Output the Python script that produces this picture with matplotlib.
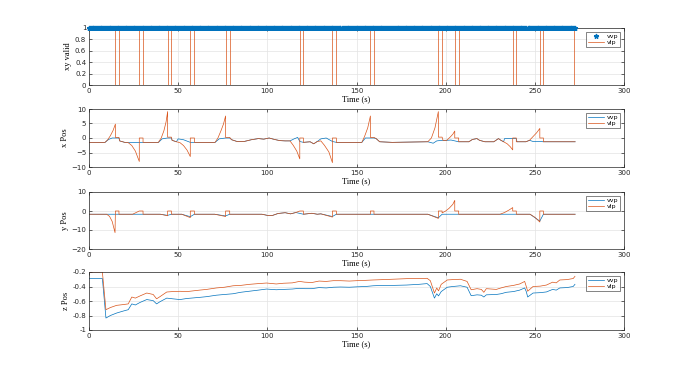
import numpy as np
import matplotlib
matplotlib.use('Agg')
import matplotlib.pyplot as plt

# dropout intervals of the vlp valid flag (s)
drop_start = [14.8, 28.2, 44.1, 56.8, 76.6, 118.2, 136.5, 157.8, 195.9, 205.1, 237.6, 252.8]
drop_end = [16.8, 30.3, 46.2, 59.1, 78.9, 120.2, 138.7, 159.8, 198.0, 207.3, 239.6, 254.8]
t_end_vlp = 271.8
# gaps in the vvp samples
vvp_gaps = [141.7, 168.0, 245.5]
t_end_vvp = 273.0

# x position (t, value)
x_vlp_t = [0, 9, 10.5, 12, 13.5, 14.8, 14.8, 16.8, 17.2, 20, 22, 24, 26, 28.2, 28.2, 30.3, 30.3,
           38.9, 40.5, 42, 43.2, 44.1, 44.1, 46.2, 46.6, 49, 51, 53, 55, 56.8, 56.8, 59.1, 59.1,
           70.7, 72.3, 74, 75.4, 76.6, 76.6, 78.9, 80, 83, 87, 91, 95, 98, 101, 104, 107, 110,
           112.7, 114.5, 116.5, 118.2, 118.2, 120.2, 120.2, 124, 126, 128, 130, 132, 134.5, 136.5,
           136.5, 138.7, 138.7, 153, 154.5, 156.3, 157.8, 157.8, 159.8, 161, 163, 170, 190, 192,
           194, 195.9, 195.9, 198, 198.5, 200.6, 202.5, 204, 205.1, 205.1, 207.3, 207.3, 213, 215,
           217.5, 219, 222, 227, 229.6, 231, 232.5, 234.5, 236.2, 237.6, 237.6, 239.6, 239.6, 245,
           247, 249, 251, 252.8, 252.8, 254.8, 254.8, 272.6]
x_vlp = [-1.5, -1.5, -0.6, 0.8, 2.6, 4.8, 0.2, 0.2, -1.0, -1.5, -1.6, -2.6, -4.5, -8.1, 0, 0, -1.5,
         -1.5, 0, 2.5, 5.5, 9.1, 0.3, 0.3, -0.8, -1.3, -1.6, -2.6, -4.2, -6.4, 0, 0, -1.5,
         -1.5, 0, 2.5, 4.8, 7.6, 0.2, 0.2, -0.6, -1.2, -1.2, -0.6, -0.2, -0.4, 0, -0.5, -0.9, -1.0,
         -1.0, -2.5, -4.5, -7.2, 0, 0, -1.5, -1.3, -2.0, -1.2, -1.0, -2.5, -4.8, -8.5,
         0, 0, -1.5, -1.5, 0.5, 3.5, 7.6, 0.2, 0.2, -0.2, -1.3, -1.5, -1.3, 0,
         3.5, 9.1, 0.3, 0.3, -0.8, -0.8, 0.3, 1.3, 2.4, 0, 0, -1.3, -1.3, -0.5,
         -0.2, -0.8, -1.3, -1.3, -0.2, -0.8, -1.3, -2.0, -3.0, -4.1, 0, 0, -1.3, -1.3,
         -0.8, 0.5, 1.8, 3.3, 0, 0, -1.3, -1.3]
x_vvp_t = [0, 9, 11, 13, 16.8, 17.2, 20, 22, 28.2, 30.3, 39, 41, 44, 46.2, 46.6, 49, 50, 53, 56.8,
           59.1, 70.7, 73, 76.6, 78.9, 80, 83, 87, 91, 95, 98, 101, 104, 107, 110, 112.7, 115, 117,
           118.2, 120.2, 124, 126, 128, 130, 133, 136.5, 138.7, 153, 155, 159.8, 161, 163, 170, 190,
           193, 195, 198, 200.6, 203, 207.3, 213, 215, 217.5, 219, 222, 227, 229.6, 231, 232.5, 233,
           239.6, 240, 245, 247, 249, 252.8, 254.8, 272.6]
x_vvp = [-1.5, -1.5, -0.5, 0, 0, -1.0, -1.5, -1.6, -1.6, -1.5, -1.5, -0.3, 0, 0, -0.8, -1.3, -0.3, -0.6, -1.5,
         -1.5, -1.5, -0.3, 0, 0, -0.6, -1.2, -1.2, -0.6, -0.2, -0.4, 0, -0.5, -0.9, -1.0, -1.0, -0.3, 0.2,
         -1.2, -1.5, -1.3, -2.0, -1.2, -0.3, 0, -1.2, -1.5, -1.5, 0, 0, -0.2, -1.3, -1.5, -1.3,
         -1.8, -1.0, -0.8, -0.8, -0.7, -1.3, -1.3, -0.5, -0.2, -0.8, -1.3, -1.3, -0.2, -0.8, -1.3, -0.2,
         -0.2, -1.3, -1.3, -0.8, -1.2, -1.2, -1.3, -1.3]

# y position (t, value)
y_vlp_t = [0, 9.9, 11.5, 13, 14.6, 14.8, 16.8, 16.8, 24.5, 28.2, 30.3, 30.3, 40, 44.1, 44.1, 46.2, 46.2,
           52, 56.8, 56.8, 59.1, 59.1, 70.5, 76.6, 76.6, 78.9, 78.9, 97, 100, 103, 106, 110, 113, 116,
           118.2, 120.2, 120.2, 125, 128, 130, 136.5, 136.5, 138.7, 138.7, 157.8, 157.8, 159.8, 159.8,
           190, 193, 195.9, 195.9, 198, 198, 200, 202, 204, 205.1, 205.1, 207.3, 207.3, 230.5, 233,
           235.5, 237.6, 237.6, 239.6, 239.6, 247.3, 250, 252.8, 252.8, 254.8, 254.8, 272.6]
y_vlp = [-1.7, -1.7, -2.8, -5.5, -11.4, 0, 0, -1.7, -1.7, 0, 0, -1.7, -1.7, -2.5, 0, 0, -1.7,
         -1.7, -3.5, 0, 0, -1.7, -1.7, -2.9, 0, 0, -1.7, -1.7, -2.3, -2.3, -1.3, -0.9, -1.5, -0.8,
         0, 0, -1.7, -1.2, -1.7, -1.5, -3.2, 0, 0, -1.7, -1.7, 0, 0, -1.7,
         -1.7, -2.8, -3.9, 0, 0, -1.0, 0, 1.5, 3.5, 5.6, 0, 0, -1.7, -1.7, -0.8,
         0.5, 1.8, 0, 0, -1.7, -1.7, -3.3, -5.8, 0, 0, -1.7, -1.7]
y_vvp_t = [0, 40, 44.1, 46.2, 52, 56.8, 59.1, 70.5, 76.6, 78.9, 97, 100, 103, 106, 110, 113, 116,
           120.2, 125, 128, 130, 136.5, 138.7, 190, 195.9, 198, 247.3, 252.8, 254.8, 272.6]
y_vvp = [-1.7, -1.7, -2.3, -1.7, -1.7, -3.0, -1.7, -1.7, -2.6, -1.7, -1.7, -2.3, -2.3, -1.3, -0.9, -1.5, -0.8,
         -1.7, -1.2, -1.7, -1.5, -2.9, -1.7, -1.7, -3.6, -1.7, -1.7, -5.3, -1.7, -1.7]

# z position (t, value)
z_t = [0, 7.5, 9.5, 12, 15.5, 19, 22, 24, 26, 28.6, 32.4, 36, 37.9, 39.8, 43.6, 47, 51, 55, 62, 66,
       71.4, 76, 80.8, 85, 90, 95, 99.6, 105, 109, 114, 118, 121, 125, 129, 133, 137, 141, 146, 150,
       155, 159.4, 165, 170, 178, 185, 189.6, 191.4, 193.7, 195, 196, 197.5, 200.9, 204, 208.3, 212,
       214.3, 217.6, 220, 221.4, 222.8, 228.4, 231, 234, 238, 241.5, 244.3, 245.2, 246, 249, 253,
       256.5, 260, 262, 264, 268, 271.5, 272.5]
z_vlp = [-0.2, -0.2, -0.72, -0.69, -0.66, -0.65, -0.64, -0.545, -0.56, -0.53, -0.49, -0.51, -0.57, -0.54,
         -0.476, -0.47, -0.466, -0.47, -0.45, -0.44, -0.42, -0.41, -0.39, -0.385, -0.37, -0.36, -0.352,
         -0.365, -0.355, -0.35, -0.33, -0.34, -0.345, -0.325, -0.33, -0.32, -0.32, -0.325, -0.32,
         -0.315, -0.31, -0.305, -0.3, -0.292, -0.29, -0.287, -0.32, -0.49, -0.42, -0.46, -0.37, -0.31,
         -0.305, -0.3, -0.33, -0.445, -0.43, -0.44, -0.48, -0.43, -0.44, -0.42, -0.40, -0.385, -0.365,
         -0.33, -0.40, -0.465, -0.40, -0.395, -0.38, -0.34, -0.35, -0.31, -0.305, -0.29, -0.26]
z_vvp = [-0.29, -0.29, -0.835, -0.8, -0.766, -0.74, -0.72, -0.64, -0.655, -0.62, -0.58, -0.595, -0.64,
         -0.61, -0.56, -0.57, -0.58, -0.565, -0.55, -0.54, -0.52, -0.51, -0.5, -0.48, -0.465, -0.45,
         -0.435, -0.445, -0.44, -0.435, -0.425, -0.43, -0.43, -0.415, -0.42, -0.41, -0.407, -0.41,
         -0.405, -0.4, -0.39, -0.385, -0.385, -0.38, -0.37, -0.36, -0.4, -0.56, -0.5, -0.53, -0.47,
         -0.41, -0.4, -0.39, -0.41, -0.527, -0.515, -0.52, -0.545, -0.515, -0.51, -0.5, -0.48, -0.47,
         -0.45, -0.42, -0.47, -0.545, -0.49, -0.485, -0.475, -0.44, -0.45, -0.42, -0.415, -0.40, -0.37]

blue = '#0072BD'
orange = '#D95319'
serif = ['Liberation Serif', 'DejaVu Serif']

# vvp valid samples (all 1) and vlp valid step line
t_vvp = np.arange(0, t_end_vvp, 0.5)
for g in vvp_gaps:
    t_vvp = t_vvp[np.abs(t_vvp - g) > 0.3]
valid_vvp = np.ones_like(t_vvp)

t_vlp = [0]
valid_vlp = [1]
for s, e in zip(drop_start, drop_end):
    t_vlp += [s, s, e, e]
    valid_vlp += [1, 0, 0, 1]
t_vlp += [t_end_vlp, t_end_vlp]
valid_vlp += [1, 0]

fig = plt.figure(figsize=(6.9, 3.72), dpi=100)
L, W = 89 / 690, 535 / 690
rows = [(28, 85), (109, 167), (192, 249), (272, 330)]
axes = [fig.add_axes([L, 1 - b / 372, W, (b - t) / 372]) for t, b in rows]

ax = axes[0]
ax.plot(t_vlp, valid_vlp, '-', color=orange, lw=0.5, label='vlp', zorder=2)
ax.plot(t_vvp, valid_vvp, '*', color=blue, ms=3.5, mew=0.9, label='vvp', clip_on=False, zorder=3)
ax.set_ylim(0, 1)
ax.set_yticks([0, 0.2, 0.4, 0.6, 0.8, 1])
ax.set_yticklabels(['0', '0.2', '0.4', '0.6', '0.8', '1'])
ax.set_ylabel('xy valid')

ax = axes[1]
ax.plot(x_vvp_t, x_vvp, color=blue, lw=0.5, label='vvp')
ax.plot(x_vlp_t, x_vlp, color=orange, lw=0.5, label='vlp')
ax.set_ylim(-10, 10)
ax.set_yticks([-10, -5, 0, 5, 10])
ax.set_ylabel('x Pos')

ax = axes[2]
ax.plot(y_vvp_t, y_vvp, color=blue, lw=0.5, label='vvp')
ax.plot(y_vlp_t, y_vlp, color=orange, lw=0.5, label='vlp')
ax.set_ylim(-20, 10)
ax.set_yticks([-20, -10, 0, 10])
ax.set_ylabel('y Pos')

ax = axes[3]
ax.plot(z_t, z_vvp, color=blue, lw=0.5, label='vvp')
ax.plot(z_t, z_vlp, color=orange, lw=0.5, label='vlp')
ax.set_ylim(-1, -0.2)
ax.set_yticks([-1, -0.8, -0.6, -0.4, -0.2])
ax.set_yticklabels(['-1', '-0.8', '-0.6', '-0.4', '-0.2'])
ax.set_ylabel('z Pos')

for i, ax in enumerate(axes):
    ax.set_xlim(0, 300)
    ax.set_xticks([0, 50, 100, 150, 200, 250, 300])
    ax.set_xlabel('Time (s)', family=serif, fontsize=6, labelpad=1)
    ax.yaxis.label.set_family(serif)
    ax.yaxis.label.set_fontsize(6)
    ax.yaxis.labelpad = 2
    ax.grid(True, color='#e3e3e3', lw=0.5)
    ax.set_axisbelow(True)
    ax.tick_params(direction='in', labelsize=5, length=2.5, width=0.5, pad=2,
                   top=True, right=True, color='#262626', labelcolor='#262626')
    for sp in ax.spines.values():
        sp.set_color('#262626')
        sp.set_linewidth(0.5)
    handles, labels = ax.get_legend_handles_labels()
    order = [labels.index('vvp'), labels.index('vlp')]
    leg = ax.legend([handles[k] for k in order], [labels[k] for k in order],
                    loc='upper right', fontsize=4.5, frameon=True, fancybox=False,
                    borderaxespad=0.6, handlelength=2.6, borderpad=0.3, labelspacing=0.1,
                    handletextpad=0.5)
    leg.get_frame().set_edgecolor('#262626')
    leg.get_frame().set_linewidth(0.5)

fig.savefig('out.png', dpi=100)
